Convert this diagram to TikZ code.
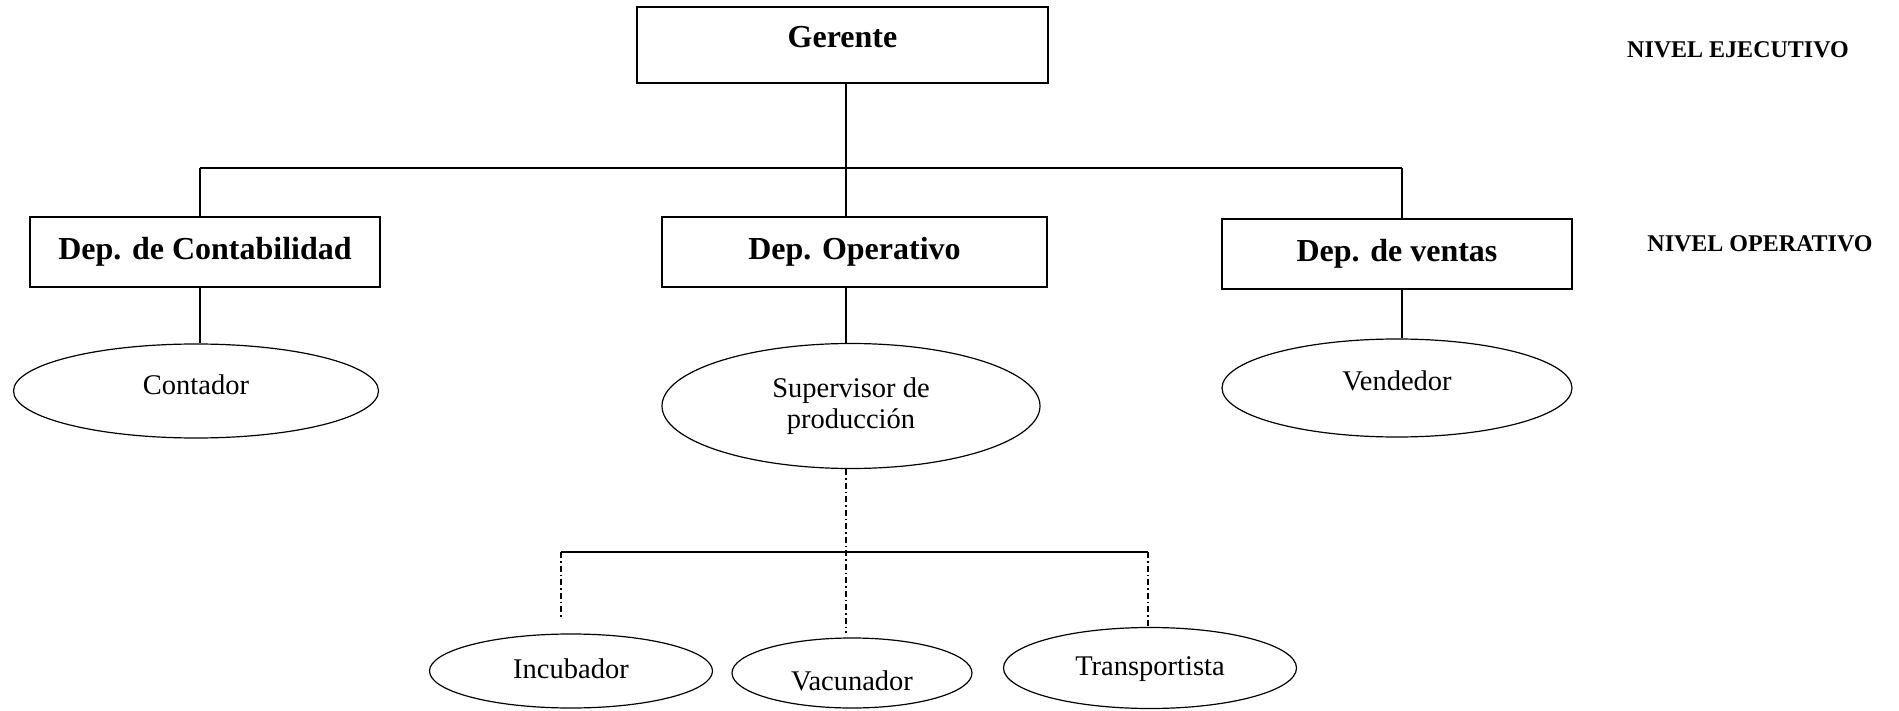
\documentclass[tikz,border=0pt]{standalone}
\usepackage{fontspec}
\setmainfont{Liberation Serif}
\usetikzlibrary{shapes.geometric}
\begin{document}
\begin{tikzpicture}[x={(1pt,0pt)},y={(0pt,-1pt)},
  boxn/.style={draw,line width=2.4pt,rectangle,inner sep=0pt,font=\fontsize{32}{36}\selectfont\bfseries,text height=22pt,text depth=7pt},
  ellbase/.style={draw,line width=1.2pt,ellipse,inner sep=0pt,font=\fontsize{28.5}{31}\selectfont},
  elln/.style={ellbase,text height=20pt,text depth=6pt},
  lvl/.style={font=\fontsize{24}{28}\selectfont\bfseries,inner sep=0pt},
  conn/.style={line width=1.2pt},
  dd/.style={line width=1.2pt,dash pattern=on 6pt off 3pt on 1.5pt off 3pt}]
\fill[white] (0,0) rectangle (1899,711);
\useasboundingbox (0,0) rectangle (1899,711);

\node[boxn,minimum width=411pt,minimum height=76pt,text depth=16pt] (ger) at (842.5,45) {Gerente};
\node[boxn,minimum width=350pt,minimum height=70pt] (cont) at (205,252) {Dep. de Contabilidad};
\node[boxn,minimum width=385pt,minimum height=70pt] (oper) at (854.5,252) {Dep. Operativo};
\node[boxn,minimum width=350pt,minimum height=70pt] (vent) at (1397,254) {Dep. de ventas};

\node[elln,minimum width=365pt,minimum height=94pt,text depth=14pt] (contador) at (196,391) {Contador};
\node[ellbase,align=center,minimum width=378pt,minimum height=125pt] (sup) at (851,406) {Supervisor de\\producción};
\node[elln,minimum width=350pt,minimum height=98pt,text depth=16pt] (vend) at (1397,388) {Vendedor};
\node[elln,minimum width=283pt,minimum height=74pt] (inc) at (571,671) {Incubador};
\node[elln,minimum width=240pt,minimum height=70pt,text height=40pt] (vac) at (852,673) {Vacunador};
\node[elln,minimum width=293pt,minimum height=81pt] (tra) at (1150,668) {Transportista};

\node[lvl] (nej) at (1738,50) {NIVEL EJECUTIVO};
\node[lvl] (nop) at (1760,244) {NIVEL OPERATIVO};

\coordinate (bM) at (846,168);
\coordinate (bL) at (200,168);
\coordinate (bR) at (1402,168);
\draw[conn] (ger.south -| bM) -- (bM);
\draw[conn] (bL) -- (bR);
\draw[conn] (bL) -- (bL |- cont.north);
\draw[conn] (bM) -- (bM |- oper.north);
\draw[conn] (bR) -- (bR |- vent.north);
\draw[conn] (cont.south -| bL) -- (bL |- contador.north);
\draw[conn] (oper.south -| bM) -- (bM |- sup.north);
\draw[conn] (vent.south -| bR) -- (bR |- vend.north);

\coordinate (cM) at (846,552);
\coordinate (cL) at (561,552);
\coordinate (cR) at (1148,552);
\coordinate (eL) at (561,617);
\coordinate (eM) at (846,633);
\draw[dd] (sup.south -| cM) -- (eM);
\draw[conn] (cL) -- (cR);
\draw[dd] (cL) -- (eL);
\draw[dd] (cR) -- (cR |- tra.north);
\end{tikzpicture}
\end{document}
